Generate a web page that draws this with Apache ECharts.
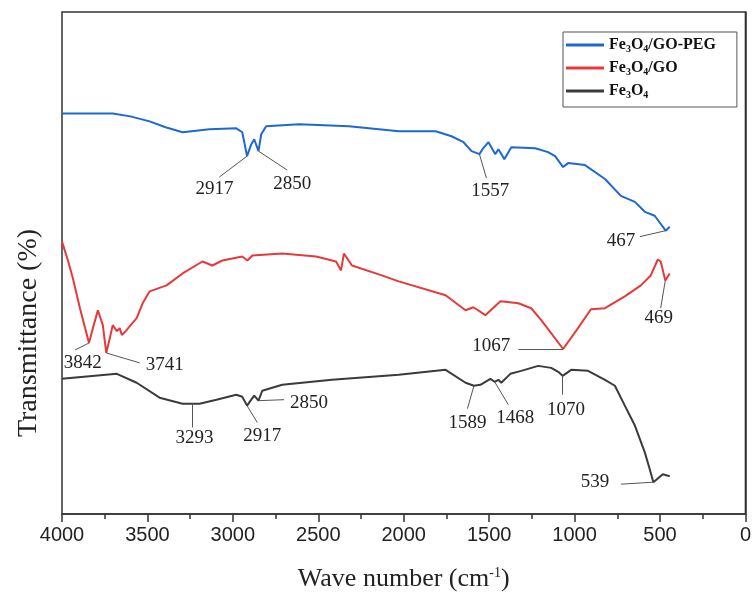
<!DOCTYPE html>
<html>
<head>
<meta charset="utf-8">
<script src="https://cdn.jsdelivr.net/npm/echarts@6/dist/echarts.min.js"></script>
<style>
html,body{margin:0;padding:0;background:#fff;}
#chart{width:754px;height:597px;}
</style>
</head>
<body>
<div id="chart"></div>
<script>
// ---- data (wave number cm^-1, transmittance in arbitrary units) ----
const seriesNames = ['Fe3O4/GO-PEG', 'Fe3O4/GO', 'Fe3O4'];
const xTicks = [4000, 3500, 3000, 2500, 2000, 1500, 1000, 500, 0];

const pegWn = [4000,3703,3600,3487,3394,3294,3137,2980,2945,2917,2892,2875,2850,2834,2805,2612,2321,2029,1813,1720,1650,1603,1557,1539,1504,1493,1464,1446,1411,1370,1230,1155,1114,1067,1038,939,822,729,647,589,531,467,443];
const pegT  = [403,403,400,395,389,384,387,388,384,360,372,377,365,382,390,392,390,385,385,380,374,365,362,367,374,375,362,367,357,369,368,364,360,349,353,351,337,320,314,304,300,285,289];

const goWn = [4000,3965,3936,3895,3842,3819,3790,3761,3741,3720,3703,3679,3662,3650,3627,3603,3563,3528,3487,3388,3294,3178,3120,3061,2945,2915,2886,2711,2513,2396,2367,2350,2303,2128,2029,1755,1638,1592,1522,1434,1329,1254,1195,1067,980,904,822,706,612,554,513,496,469,443];
const goT  = [274,255,237,207,172,187,205,190,162,177,190,184,187,180,184,189,197,212,224,230,242,254,250,255,259,255,260,262,259,254,245,262,250,240,234,220,205,208,200,214,212,207,195,166,187,206,207,219,230,240,256,254,235,242];

const feWn = [4000,3679,3563,3429,3294,3195,3096,2980,2945,2917,2892,2875,2850,2828,2711,2420,2029,1755,1638,1589,1551,1493,1468,1446,1429,1376,1312,1213,1137,1096,1070,1020,921,822,764,706,647,589,560,539,525,484,443];
const feT  = [136,141,132,117,111,111,115,120,118,109,115,119,114,124,130,135,140,145,132,129,130,136,133,135,132,141,144,149,147,143,139,145,144,135,129,109,89,62,45,32,34,40,38];

// peak annotations: label, peak point, leader end, text anchor (data units)
const pegNotes = [
  ['2917', [2917,360], [3079,339], [3108,327]],
  ['2850', [2850,365], [2682,346], [2653,332]],
  ['1557', [1557,362], [1516,338], [1493,325]],
  ['467',  [467,285],  [618,279],  [729,275]]
];
const goNotes = [
  ['3842', [3842,172], [3924,165], [3878,152]],
  ['3741', [3741,162], [3545,152], [3399,150]],
  ['1067', [1067,166], [1329,166], [1487,169]],
  ['469',  [469,235],  [496,207],  [507,197]]
];
const feNotes = [
  ['3293', [3236,111], [3236,87],  [3224,76]],
  ['2917', [2917,109], [2857,92],  [2828,78]],
  ['2850', [2850,114], [2700,115], [2554,112]],
  ['1589', [1589,129], [1627,106], [1627,92]],
  ['1468', [1468,133], [1388,110], [1347,97]],
  ['1070', [1070,139], [1070,120], [1050,105]],
  ['539',  [539,32],   [729,30],   [880,32]]
];

const colors = ['#1f68d4', '#e63a3a', '#3b3b3b'];

function pairs(xs, ys){ return xs.map((x,i)=>[x, ys[i]]); }

function makeSeries(name, xs, ys, notes, color){
  return {
    name: name,
    type: 'line',
    data: pairs(xs, ys),
    showSymbol: false,
    symbol: 'none',
    lineStyle: {color: color, width: 2},
    itemStyle: {color: color},
    animation: false,
    markLine: {
      silent: true,
      animation: false,
      symbol: ['none','none'],
      lineStyle: {color: '#555', width: 1, type: 'solid'},
      label: {show: false},
      emphasis: {disabled: true},
      data: notes.map(n => [{coord: n[1]}, {coord: n[2]}])
    },
    markPoint: {
      silent: true,
      animation: false,
      symbol: 'circle',
      symbolSize: 0,
      itemStyle: {color: 'transparent'},
      label: {
        show: true,
        position: 'inside',
        formatter: p => p.name,
        fontFamily: 'Liberation Serif',
        fontSize: 19,
        color: '#222'
      },
      data: notes.map(n => ({name: n[0], coord: n[3]}))
    }
  };
}

function richName(name){
  return name.replace(/Fe3O4/, '{n|Fe}{s|3}{n|O}{s|4}{n|').concat('}').replace('{n|}', '');
}

const chart = echarts.init(document.getElementById('chart'));
chart.setOption({
  animation: false,
  backgroundColor: '#fff',
  grid: {left: 62, right: 6, top: 12, bottom: 80, show: true, borderColor: '#333', borderWidth: 1.5, backgroundColor: 'transparent'},
  legend: {
    orient: 'vertical',
    left: 563,
    top: 32,
    padding: [5, 21, 7, 3],
    itemGap: 6,
    itemWidth: 38,
    itemHeight: 3,
    icon: 'rect',
    borderColor: '#555',
    borderWidth: 1,
    data: seriesNames,
    formatter: richName,
    textStyle: {
      fontFamily: 'Liberation Serif',
      fontWeight: 'bold',
      color: '#111',
      rich: {
        n: {fontFamily: 'Liberation Serif', fontWeight: 'bold', fontSize: 16, color: '#111', height: 18},
        s: {fontFamily: 'Liberation Serif', fontWeight: 'bold', fontSize: 10, color: '#111', verticalAlign: 'bottom', padding: [6,0,0,0]}
      }
    }
  },
  xAxis: {
    type: 'value',
    min: 0,
    max: 4000,
    interval: 500,
    inverse: true,
    axisLine: {show: true, lineStyle: {color: '#333', width: 1.5}},
    axisTick: {show: true, length: 8, lineStyle: {color: '#333', width: 1.5}},
    minorTick: {show: true, splitNumber: 2, length: 5, lineStyle: {color: '#333', width: 1.5}},
    splitLine: {show: false},
    minorSplitLine: {show: false},
    axisLabel: {fontFamily: 'Liberation Sans', fontSize: 20, color: '#222', margin: 11,
      formatter: v => String(xTicks[xTicks.indexOf(v)])},
    name: '{a|Wave number (cm}{sup|-1}{a|)}',
    nameLocation: 'middle',
    nameGap: 52,
    nameTextStyle: {
      rich: {
        a: {fontFamily: 'Liberation Serif', fontSize: 26, color: '#222'},
        sup: {fontFamily: 'Liberation Serif', fontSize: 14, color: '#222', verticalAlign: 'top', padding: [0,0,10,0]}
      }
    }
  },
  yAxis: {
    type: 'value',
    min: 0,
    max: 505,
    axisLine: {show: true, lineStyle: {color: '#333', width: 1.5}},
    axisTick: {show: false},
    axisLabel: {show: false},
    splitLine: {show: false},
    name: 'Transmittance (%)',
    nameLocation: 'middle',
    nameGap: 19,
    nameTextStyle: {fontFamily: 'Liberation Serif', fontSize: 28, color: '#222', padding: [0, 140, 0, 0]}
  },
  series: [
    makeSeries(seriesNames[0], pegWn, pegT, pegNotes, colors[0]),
    makeSeries(seriesNames[1], goWn, goT, goNotes, colors[1]),
    makeSeries(seriesNames[2], feWn, feT, feNotes, colors[2])
  ]
});
</script>
</body>
</html>
